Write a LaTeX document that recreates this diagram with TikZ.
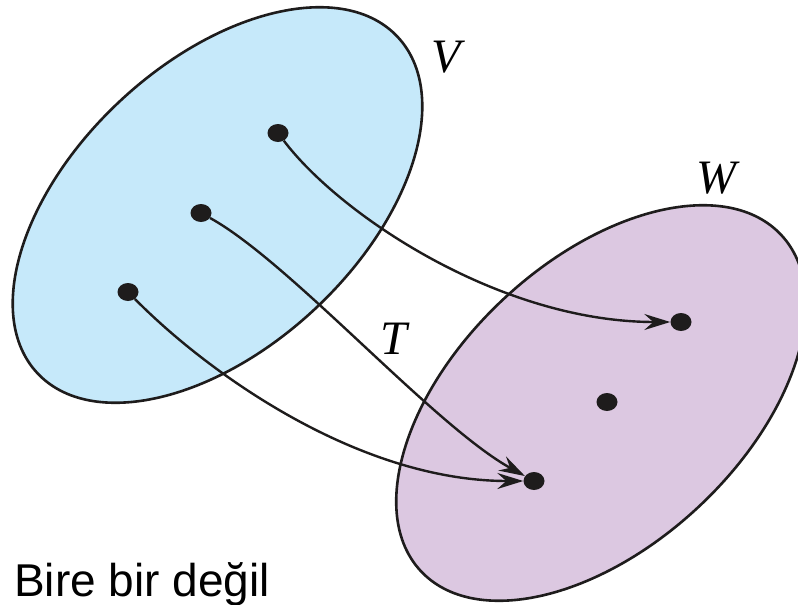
\documentclass[tikz,border=0pt]{standalone}
\usepackage{fontspec}
\setmainfont{Liberation Serif}
\newfontfamily\labelsans{Liberation Sans}
\usetikzlibrary{arrows.meta,shapes.geometric}
\definecolor{vblue}{RGB}{198,233,250}
\definecolor{wlilac}{RGB}{220,200,225}
\definecolor{ink}{RGB}{30,28,28}
\begin{document}
\begin{tikzpicture}[x=1pt,y=-1pt,
  setshape/.style={draw=ink,line width=2.6pt},
  dot/.style={ellipse,fill=ink,inner sep=0pt,minimum width=21pt,minimum height=18pt},
  arr/.style={draw=ink,line width=2.4pt,-{Stealth[length=26pt,width=16pt,inset=9pt]}},
  setlabel/.style={inner sep=0pt,font=\fontsize{48}{54}\selectfont\itshape}
]
\useasboundingbox (0,0) rectangle (798,605);
\fill[white] (0,0) rectangle (798,605);
% sets
\path[setshape,fill=vblue] (217.5,205) ellipse [x radius=246.4, y radius=142.5, rotate=43];
\path[setshape,fill=wlilac] (601,403) ellipse [x radius=246.4, y radius=142.5, rotate=43];
% dots
\node[dot] (v1) at (278,133) {};
\node[dot] (v2) at (201,213) {};
\node[dot] (v3) at (128,292) {};
\node[dot] (w1) at (681,322) {};
\node[dot] (w2) at (607,402) {};
\node[dot] (w3) at (534,481) {};
% arrows
\draw[arr] (v1) .. controls (340,215) and (500,322) .. (w1);
\draw[arr] (v2) .. controls (290,262) and (434,426) .. (w3);
\draw[arr] (v3) .. controls (210,375) and (360,481) .. (w3);
% labels
\node[setlabel] (lv) at (446,57) {V};
\node[setlabel] (lw) at (716,178) {W};
\node[setlabel] (lt) at (394,339) {T};
\node[anchor=base west,inner sep=0pt,font=\labelsans\fontsize{46}{52}\selectfont] (cap) at (14,596) {Bire bir değil};
\end{tikzpicture}
\end{document}
